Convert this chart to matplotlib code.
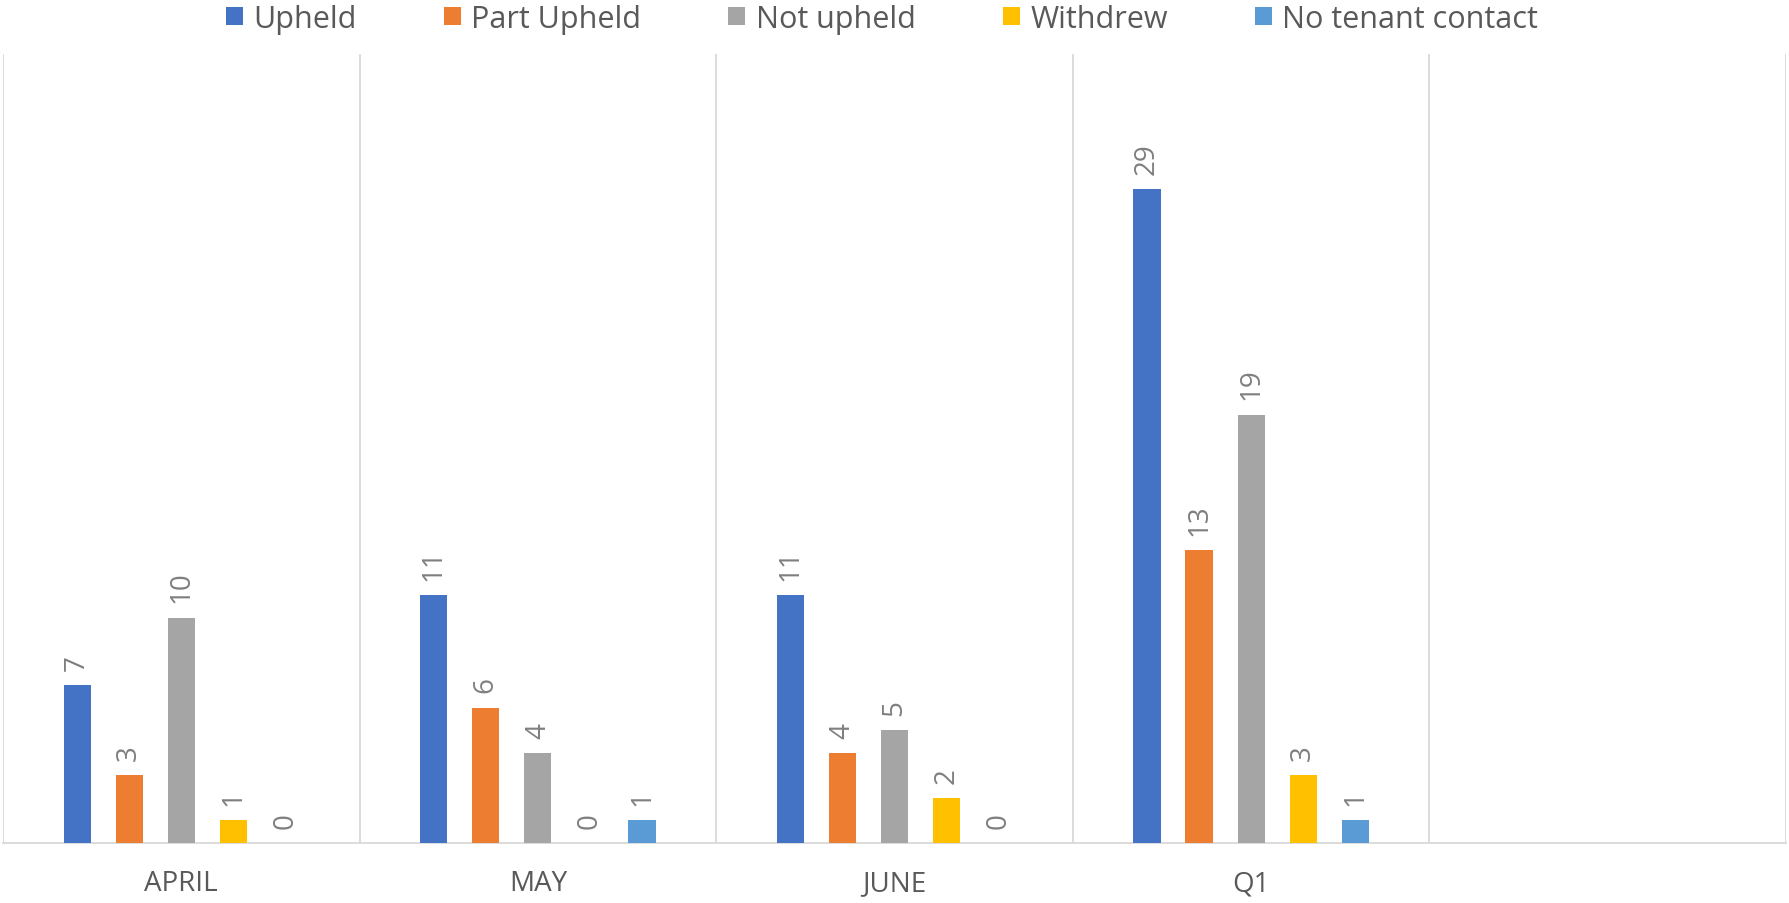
import matplotlib.pyplot as plt
import numpy as np

plt.rcParams['font.family'] = ['Open Sans', 'DejaVu Sans']

categories = ['APRIL', 'MAY', 'JUNE', 'Q1', '']
series = ['Upheld', 'Part Upheld', 'Not upheld', 'Withdrew', 'No tenant contact']
upheld = [7, 11, 11, 29, None]
part_upheld = [3, 6, 4, 13, None]
not_upheld = [10, 4, 5, 19, None]
withdrew = [1, 0, 2, 3, None]
no_contact = [0, 1, 0, 1, None]
colors = ['#4472c4', '#ed7d31', '#a5a5a5', '#ffc000', '#5b9bd5']

values = [upheld, part_upheld, not_upheld, withdrew, no_contact]

fig = plt.figure(figsize=(17.89, 9.04), dpi=100)
ax = fig.add_axes([3 / 1789, 1 - 844 / 904, (1786 - 3) / 1789, (844 - 55) / 904])

x = np.arange(len(categories))
step = 0.146
width = 0.076
for i, (name, vals, c) in enumerate(zip(series, values, colors)):
    xs = [xi + (i - 2) * step for xi, v in zip(x, vals) if v is not None]
    vs = [v for v in vals if v is not None]
    ax.bar(xs, vs, width=width, color=c, label=name, zorder=3)
    for xx, v in zip(xs, vs):
        ax.annotate(str(v), (xx, v), xytext=(0, 11), textcoords='offset points',
                    rotation=90, ha='center', va='bottom', fontsize=20, color='#7f7f7f')

ax.set_xlim(-0.5, len(categories) - 0.5)
ax.set_ylim(0, 35)
ax.set_yticks([])
ax.set_xticks(x)
ax.set_xticklabels(categories, fontsize=20, color='#595959')
ax.tick_params(axis='x', length=0, pad=19)
ax.set_xticks(np.arange(len(categories) + 1) - 0.5, minor=True)
ax.tick_params(axis='x', which='minor', length=0)
ax.grid(axis='x', which='minor', color='#d9d9d9', lw=1.3, zorder=0)
for s in ['top', 'left', 'right']:
    ax.spines[s].set_visible(False)
ax.spines['bottom'].set_color('#d9d9d9')
ax.spines['bottom'].set_linewidth(1.3)

fig.legend(*ax.get_legend_handles_labels(), loc='center', bbox_to_anchor=(0.493, 1 - 20 / 904),
           ncol=5, frameon=False, fontsize=22, labelcolor='#595959',
           handlelength=0.55, handleheight=0.55, handletextpad=0.35,
           columnspacing=2.85, borderpad=0)

fig.savefig('out.png', dpi=100)
